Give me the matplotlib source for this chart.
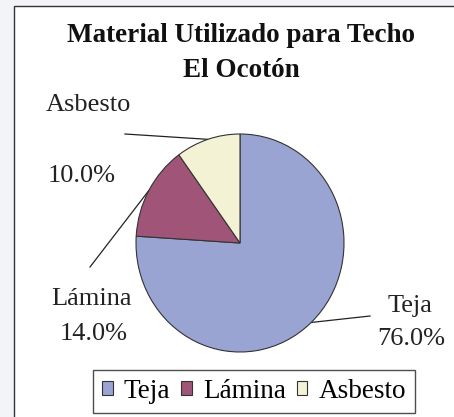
import numpy as np
import matplotlib
matplotlib.use("Agg")
import matplotlib.pyplot as plt
from matplotlib.patches import Rectangle


# Data
categories = ["Teja", "Lámina", "Asbesto"]
percentages = [76.0, 14.0, 10.0]
colors = ["#9aa4d2", "#a05478", "#f4f2d4"]
title_lines = ["Material Utilizado para Techo", "El Ocotón"]

W, H = 454, 417
SERIF = ["Liberation Serif", "DejaVu Serif"]

fig = plt.figure(figsize=(W / 100, H / 100), dpi=100)
fig.patch.set_facecolor("#f3f4f8")

# background axes in pixel coordinates (y down, like the image)
bg = fig.add_axes([0, 0, 1, 1], zorder=0)
bg.set_xlim(0, W)
bg.set_ylim(H, 0)
bg.axis("off")
bg.add_patch(Rectangle((14, 6), W, H, facecolor="white",
                       edgecolor="#333333", linewidth=1.0))

# pie, slightly taller than wide as in the original
cx, cy, rx, ry = 240, 243, 104, 109
pax = fig.add_axes([(cx - rx) / W, (H - cy - ry) / H, 2 * rx / W, 2 * ry / H],
                   zorder=1)
wedges, _ = pax.pie(percentages, colors=colors, startangle=90, counterclock=False,
                    wedgeprops=dict(edgecolor="#333333", linewidth=0.8))
pax.set_xlim(-1, 1)
pax.set_ylim(-1, 1)
pax.set_aspect("auto")
pax.axis("off")
pax.patch.set_alpha(0)

# titles
bg.text(241, 42, title_lines[0], ha="center", va="baseline",
        fontsize=19.5, fontweight="bold", family=SERIF, color="#111111")
bg.text(241, 77, title_lines[1], ha="center", va="baseline",
        fontsize=19.5, fontweight="bold", family=SERIF, color="#111111")

# data labels: (name pos, pct pos, leader start)
label_layout = {
    "Asbesto": ((88, 111), (82, 182), (125, 134)),
    "Lámina": ((91, 305), (94, 340), (90, 267)),
    "Teja": ((410, 312), (411, 345), (370, 316)),
}
for w, name, pct in zip(wedges, categories, percentages):
    (nx, ny), (px, py), (sx, sy) = label_layout[name]
    bg.text(nx, ny, name, ha="center", va="baseline", fontsize=19,
            family=SERIF, color="#222222")
    bg.text(px, py, f"{pct:.1f}%", ha="center", va="baseline", fontsize=19,
            family=SERIF, color="#222222")
    mid = np.deg2rad((w.theta1 + w.theta2) / 2)
    ex = cx + rx * np.cos(mid)
    ey = cy - ry * np.sin(mid)
    bg.plot([sx, ex], [sy, ey], color="#222222", linewidth=0.9)

leg = fig.legend(wedges, categories, loc="center",
                 bbox_to_anchor=(254 / W, 1 - 391.5 / H), ncol=3,
                 frameon=True, fancybox=False, edgecolor="#222222",
                 handlelength=0.4, handleheight=0.4, handletextpad=0.4,
                 columnspacing=0.4, borderpad=0.35, borderaxespad=0,
                 prop=dict(family=SERIF, size=19.5))
leg.get_frame().set_linewidth(1.0)

fig.savefig("out.png", dpi=100, facecolor=fig.get_facecolor())
